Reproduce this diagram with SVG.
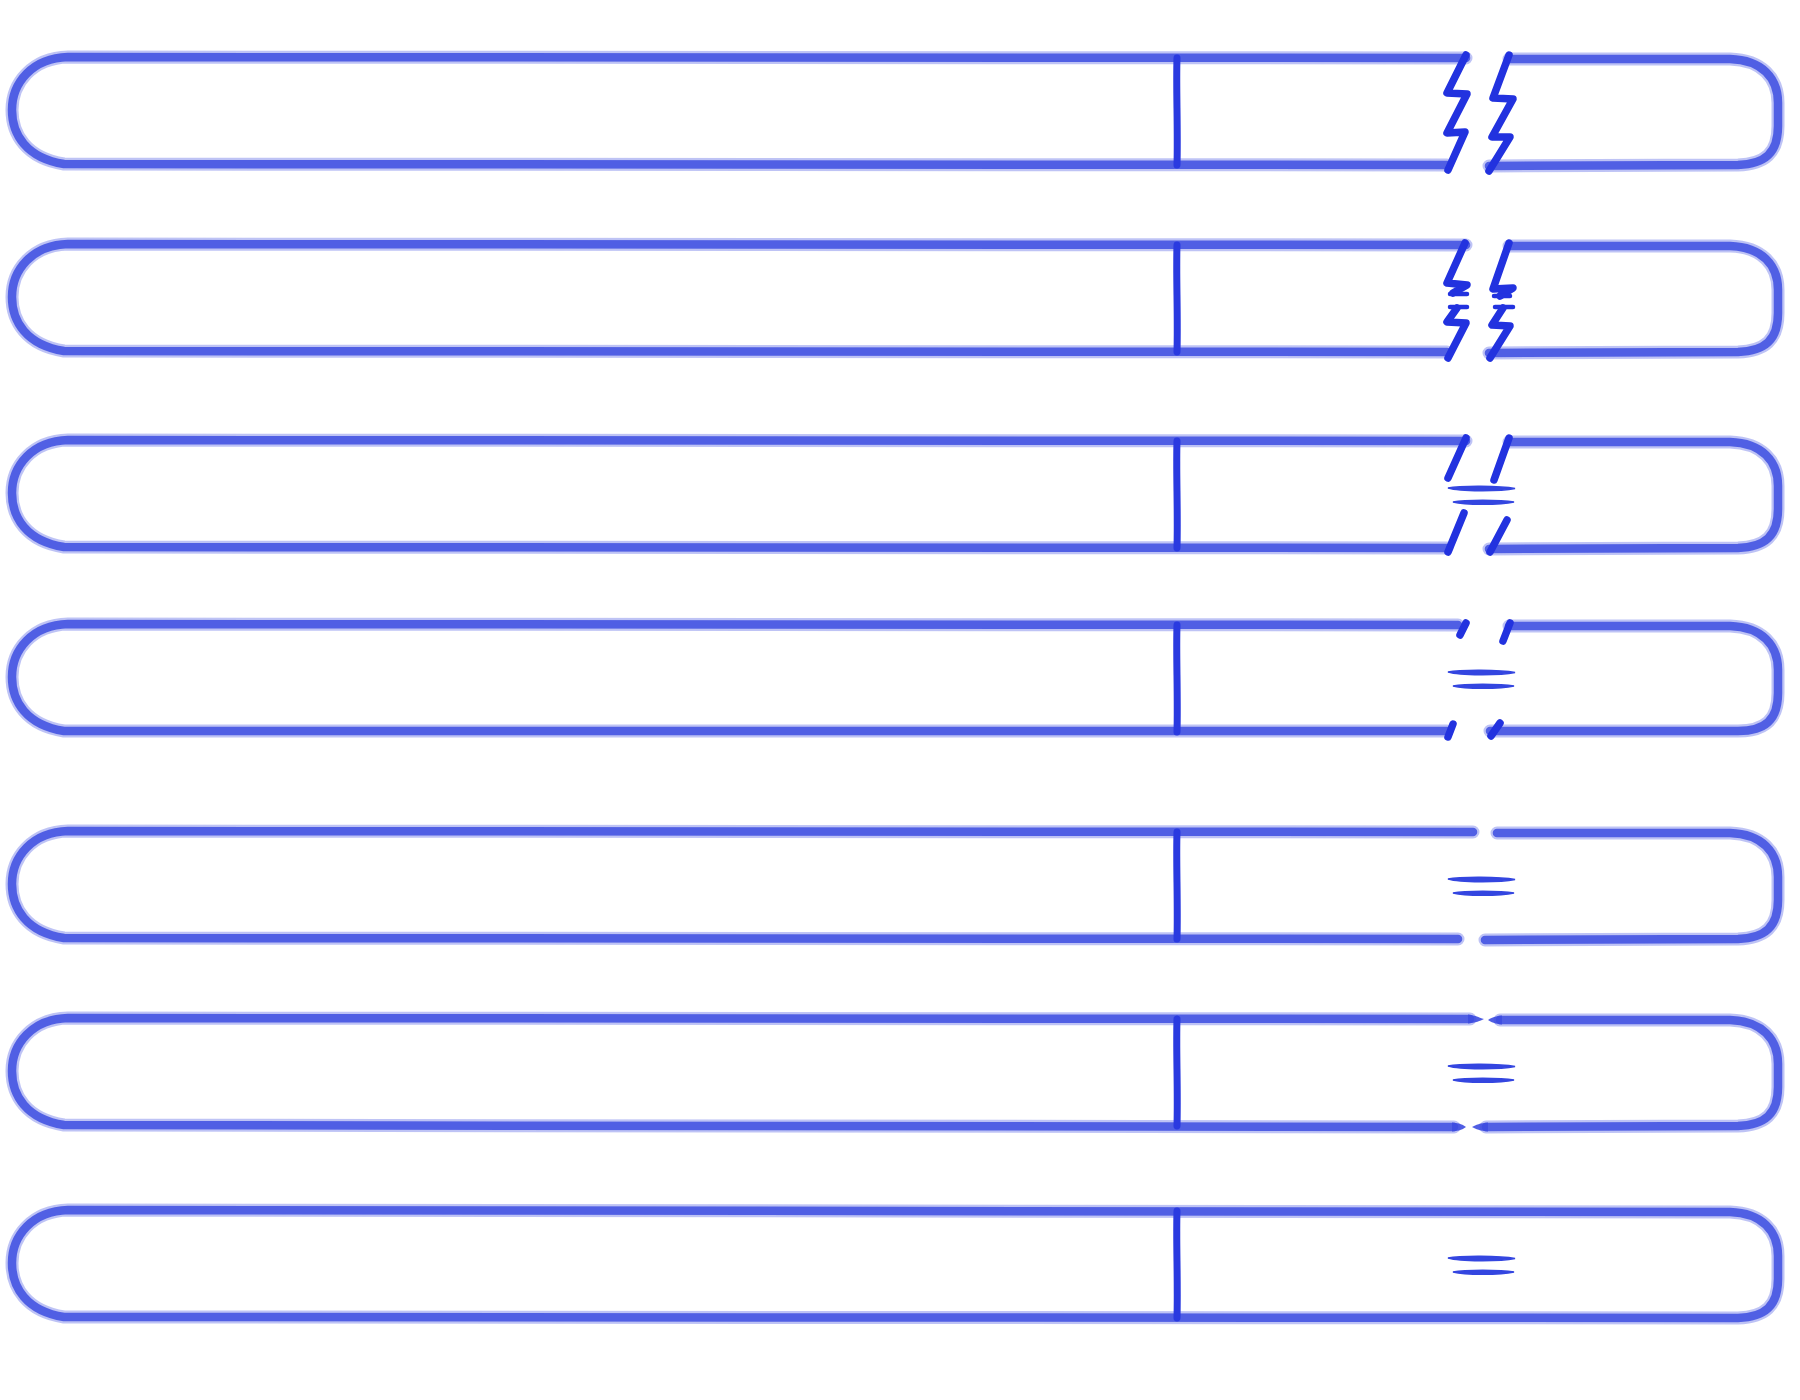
<svg xmlns="http://www.w3.org/2000/svg" xmlns:xlink="http://www.w3.org/1999/xlink" width="1800" height="1400" viewBox="0 0 1800 1400">
<style>
.o1{fill:none;stroke:#5c6ae6;stroke-width:13;stroke-opacity:0.4;stroke-linecap:round;stroke-linejoin:round}
.o2{fill:none;stroke:#3d4de0;stroke-width:8.5;stroke-opacity:0.85;stroke-linecap:round;stroke-linejoin:round}
.dv{fill:none;stroke:#2a3ae0;stroke-width:7;stroke-linecap:round}
.zz{fill:none;stroke:#2232df;stroke-width:7.5;stroke-linecap:round;stroke-linejoin:round}
.tk{fill:none;stroke:#2232df;stroke-width:4.5;stroke-linecap:round}
.eq{fill:#3446e0;stroke:#3446e0;stroke-width:1.5}
.tp{fill:#3d4de0;fill-opacity:0.9}
</style>
<defs>
<g id="eqs">
<path class="eq" d="M1448,47 C1460,44.5 1500,44.5 1515,47.5 C1500,50.5 1460,50.5 1448,47 Z"/>
<path class="eq" d="M1453,61 C1465,58.5 1500,58.5 1514,61 C1500,64 1465,64 1453,61 Z"/>
</g>
<path id="divider" class="dv" d="M1177,0 C1176,30 1178,70 1177,107"/>
</defs>
<rect width="1800" height="1400" fill="#ffffff"/>

<g id="bar1" transform="translate(0,58)">
<path class="o1" d="M1466,0 L68,-1 C32,0 12,25 12,52 C12,76 26,100 64,106 L1447,107"/>
<path class="o2" d="M1466,0 L68,-1 C32,0 12,25 12,52 C12,76 26,100 64,106 L1447,107"/>
<path class="o1" d="M1509,1 L1730,1 C1762,2 1778,20 1778,45 L1778,68 C1778,95 1765,106 1738,107 L1489,108"/>
<path class="o2" d="M1509,1 L1730,1 C1762,2 1778,20 1778,45 L1778,68 C1778,95 1765,106 1738,107 L1489,108"/>
<use xlink:href="#divider"/>
<polyline class="zz" points="1466,-3 1447,35 1467,36 1447,75 1465,74 1448,112"/>
<polyline class="zz" points="1509,-3 1493,40 1513,41 1492,79 1510,79 1489,113"/>
</g>

<g id="bar2" transform="translate(0,245)">
<path class="o1" d="M1466,0 L68,-1 C32,0 12,25 12,52 C12,76 26,100 64,106 L1447,107"/>
<path class="o2" d="M1466,0 L68,-1 C32,0 12,25 12,52 C12,76 26,100 64,106 L1447,107"/>
<path class="o1" d="M1509,1 L1730,1 C1762,2 1778,20 1778,45 L1778,68 C1778,95 1765,106 1738,107 L1489,108"/>
<path class="o2" d="M1509,1 L1730,1 C1762,2 1778,20 1778,45 L1778,68 C1778,95 1765,106 1738,107 L1489,108"/>
<use xlink:href="#divider"/>
<polyline class="zz" points="1465,-2 1447,38 1467,40 1453,48"/>
<line class="tk" x1="1450" y1="49" x2="1467" y2="49"/>
<line class="tk" x1="1450" y1="62" x2="1467" y2="62"/>
<polyline class="zz" points="1457,63 1447,77 1466,78 1448,113"/>
<polyline class="zz" points="1509,-2 1493,44 1513,43 1500,51"/>
<line class="tk" x1="1494" y1="51" x2="1510" y2="51"/>
<line class="tk" x1="1495" y1="62" x2="1513" y2="62"/>
<polyline class="zz" points="1503,63 1492,80 1510,81 1490,113"/>
</g>

<g id="bar3" transform="translate(0,441)">
<path class="o1" d="M1466,0 L68,-1 C32,0 12,25 12,52 C12,76 26,100 64,106 L1447,107"/>
<path class="o2" d="M1466,0 L68,-1 C32,0 12,25 12,52 C12,76 26,100 64,106 L1447,107"/>
<path class="o1" d="M1509,1 L1730,1 C1762,2 1778,20 1778,45 L1778,68 C1778,95 1765,106 1738,107 L1489,108"/>
<path class="o2" d="M1509,1 L1730,1 C1762,2 1778,20 1778,45 L1778,68 C1778,95 1765,106 1738,107 L1489,108"/>
<use xlink:href="#divider"/>
<line class="zz" x1="1466" y1="-3" x2="1448" y2="37"/>
<line class="zz" x1="1464" y1="72" x2="1448" y2="111"/>
<line class="zz" x1="1509" y1="-3" x2="1494" y2="39"/>
<line class="zz" x1="1507" y1="79" x2="1490" y2="111"/>
<use xlink:href="#eqs"/>
</g>

<g id="bar4" transform="translate(0,625)">
<path class="o1" d="M1458,0 L68,-1 C32,0 12,25 12,52 C12,76 26,100 64,106 L1447,106"/>
<path class="o2" d="M1458,0 L68,-1 C32,0 12,25 12,52 C12,76 26,100 64,106 L1447,106"/>
<path class="o1" d="M1509,1 L1730,1 C1762,2 1778,20 1778,45 L1778,68 C1778,95 1765,106 1738,106 L1490,106"/>
<path class="o2" d="M1509,1 L1730,1 C1762,2 1778,20 1778,45 L1778,68 C1778,95 1765,106 1738,106 L1490,106"/>
<use xlink:href="#divider"/>
<line class="zz" x1="1466" y1="-2" x2="1460" y2="10"/>
<line class="zz" x1="1510" y1="-2" x2="1503" y2="16"/>
<line class="zz" x1="1453" y1="99" x2="1448" y2="112"/>
<line class="zz" x1="1500" y1="98" x2="1491" y2="111"/>
<use xlink:href="#eqs"/>
</g>

<g id="bar5" transform="translate(0,832)">
<path class="o1" d="M1473,0 L68,-1 C32,0 12,25 12,52 C12,76 26,100 64,106 L1458,107"/>
<path class="o2" d="M1473,0 L68,-1 C32,0 12,25 12,52 C12,76 26,100 64,106 L1458,107"/>
<path class="o1" d="M1497,1 L1730,1 C1762,2 1778,20 1778,45 L1778,68 C1778,95 1765,106 1738,107 L1485,108"/>
<path class="o2" d="M1497,1 L1730,1 C1762,2 1778,20 1778,45 L1778,68 C1778,95 1765,106 1738,107 L1485,108"/>
<use xlink:href="#divider"/>
<use xlink:href="#eqs"/>
</g>

<g id="bar6" transform="translate(0,1019)">
<path class="o1" d="M1470,0 L68,-1 C32,0 12,25 12,52 C12,76 26,100 64,106 L1454,108"/>
<path class="o2" d="M1470,0 L68,-1 C32,0 12,25 12,52 C12,76 26,100 64,106 L1454,108"/>
<path class="o1" d="M1500,1 L1730,1 C1762,2 1778,20 1778,45 L1778,68 C1778,95 1765,106 1738,107 L1486,108"/>
<path class="o2" d="M1500,1 L1730,1 C1762,2 1778,20 1778,45 L1778,68 C1778,95 1765,106 1738,107 L1486,108"/>
<path class="tp" d="M1468,-4.5 C1476,-3.5 1480,-1 1484,0 C1480,2 1476,3.5 1468,4.5 Z"/>
<path class="tp" d="M1502,-3.5 C1495,-3 1491,-1 1488,1 C1491,3 1495,5 1502,5.5 Z"/>
<path class="tp" d="M1452,103.5 C1460,104 1463,106 1466,108 C1463,110 1460,112 1452,112.5 Z"/>
<path class="tp" d="M1488,103.5 C1480,104 1476,106 1472,108 C1476,110 1480,112 1488,112.5 Z"/>
<use xlink:href="#divider"/>
<use xlink:href="#eqs"/>
</g>

<g id="bar7" transform="translate(0,1211)">
<path class="o1" d="M68,-1 L1730,1 C1762,2 1778,20 1778,45 L1778,68 C1778,95 1765,106 1738,107 L64,106 C26,100 12,76 12,52 C12,25 32,0 68,-1 Z"/>
<path class="o2" d="M68,-1 L1730,1 C1762,2 1778,20 1778,45 L1778,68 C1778,95 1765,106 1738,107 L64,106 C26,100 12,76 12,52 C12,25 32,0 68,-1 Z"/>
<use xlink:href="#divider"/>
<use xlink:href="#eqs"/>
</g>

<g id="connectors"/>
</svg>
